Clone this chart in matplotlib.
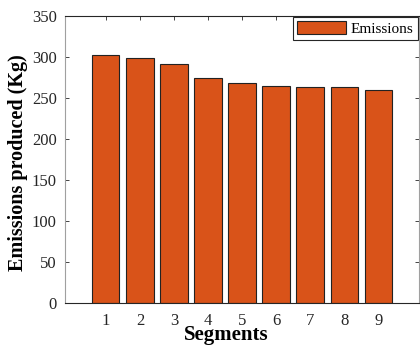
import numpy as np
import matplotlib.pyplot as plt

plt.rcParams['font.family'] = ['Liberation Serif', 'DejaVu Serif']

segments = [1, 2, 3, 4, 5, 6, 7, 8, 9]
emissions = [303, 299, 291, 275, 268, 265, 264, 263, 260]
yticks = [0, 50, 100, 150, 200, 250, 300, 350]

fig = plt.figure(figsize=(4.2, 3.45), dpi=100)
ax = fig.add_axes([65 / 420, 1 - 303 / 345, 354 / 420, 287 / 345])

ax.bar(segments, emissions, width=0.8, color='#D95319', edgecolor='#222222',
       linewidth=0.8, label='Emissions', zorder=2)

ax.set_xlim(-0.2, 10.2)
ax.set_ylim(0, 350)
ax.set_xticks(segments)
ax.set_yticks(yticks)
ax.tick_params(direction='in', length=3, width=0.6, top=True, right=True,
               labelsize=12, colors='#262626', pad=6)
ax.tick_params(axis='x', pad=7)

for side in ['left', 'right']:
    ax.spines[side].set_color('#a0a0a0')
for side in ['top', 'bottom']:
    ax.spines[side].set_color('#262626')
for sp in ax.spines.values():
    sp.set_linewidth(0.8)

ax.set_xlabel('Segments', fontsize=15, fontweight='bold')
ax.xaxis.set_label_coords(0.455, -0.078)
ax.set_ylabel('Emissions produced (Kg)', fontsize=14.5, fontweight='bold')
ax.yaxis.set_label_coords(-0.105, 0.49)

leg = ax.legend(loc='upper right', fontsize=11, fancybox=False, framealpha=1,
                edgecolor='#262626', borderaxespad=0.05, handlelength=3.2,
                handleheight=0.85, handletextpad=0.3, borderpad=0.3)
leg.get_frame().set_linewidth(0.8)

fig.savefig('out.png', dpi=100)
